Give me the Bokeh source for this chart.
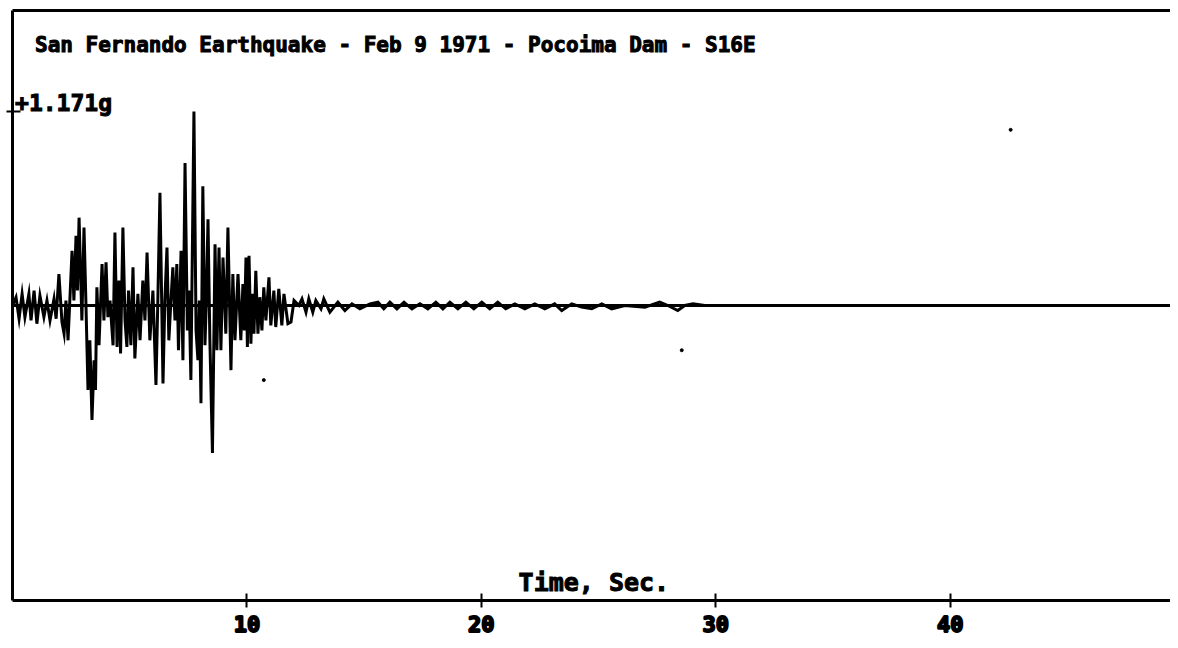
from bokeh.plotting import figure
from bokeh.models import LinearAxis, FixedTicker, Label, Span, Range1d, ColumnDataSource
from bokeh.embed import file_html
from bokeh.resources import INLINE

title_text = "San Fernando Earthquake - Feb 9 1971 - Pocoima Dam - S16E"
peak_label = "+1.171g"
x_label = "Time, Sec."
x_ticks = [10, 20, 30, 40]
peak_g = 1.171

# time (s) and acceleration (g) read from the record
time_s = [
    0.00, 0.15, 0.28, 0.41, 0.53, 0.70, 0.79, 0.92, 1.04, 1.17, 1.34, 1.47, 1.60, 1.77, 1.86,
    1.98, 2.11, 2.20, 2.28, 2.37, 2.54, 2.62, 2.71, 2.77, 2.84, 2.96, 3.05, 3.13, 3.22, 3.30,
    3.39, 3.48, 3.54, 3.60, 3.69, 3.82, 3.90, 3.99, 4.07, 4.16, 4.29, 4.37, 4.46, 4.54, 4.61,
    4.71, 4.80, 4.88, 4.95, 5.05, 5.14, 5.22, 5.35, 5.44, 5.56, 5.65, 5.74, 5.86, 5.99, 6.12,
    6.20, 6.29, 6.42, 6.50, 6.59, 6.67, 6.76, 6.84, 6.93, 7.01, 7.08, 7.19, 7.27, 7.36, 7.46,
    7.53, 7.61, 7.74, 7.83, 7.91, 7.97, 8.04, 8.12, 8.21, 8.27, 8.34, 8.42, 8.53, 8.64, 8.72,
    8.81, 8.89, 8.98, 9.10, 9.19, 9.32, 9.40, 9.49, 9.62, 9.74, 9.83, 9.89, 9.96, 10.02, 10.09,
    10.17, 10.23, 10.30, 10.38, 10.47, 10.55, 10.64, 10.72, 10.81, 10.94, 11.02, 11.15, 11.23, 11.36, 11.49,
    11.58, 11.75, 11.88, 12.01, 12.22, 12.35, 12.52, 12.64, 12.81, 12.94, 13.16, 13.28, 13.54, 13.88, 14.18,
    14.48, 14.82, 15.25, 15.59, 15.84, 16.10, 16.40, 16.70, 17.04, 17.38, 17.72, 18.06, 18.36, 18.66, 19.00,
    19.34, 19.68, 20.02, 20.36, 20.70, 21.04, 21.43, 21.86, 22.28, 22.71, 23.13, 23.43, 23.86, 24.28, 24.71,
    25.14, 25.56, 26.12, 26.98, 27.61, 27.96, 28.38, 28.68, 29.03, 29.53, 49.40,
]
accel_g = [
    0.00, 0.05, -0.08, 0.07, -0.07, 0.07, -0.09, 0.09, -0.11, 0.06, -0.07, 0.03, -0.09, 0.04, -0.08,
    0.19, -0.10, -0.17, 0.03, -0.21, 0.33, 0.03, 0.42, 0.09, 0.53, -0.09, 0.47, 0.03, -0.51, -0.21,
    -0.69, -0.33, -0.51, 0.11, -0.24, 0.25, -0.09, 0.26, -0.07, 0.03, -0.24, 0.44, -0.25, 0.15, -0.29,
    0.47, -0.09, -0.25, 0.09, -0.24, 0.23, -0.32, 0.07, -0.21, 0.15, -0.09, 0.32, -0.21, 0.09, -0.48,
    0.03, 0.68, -0.47, 0.03, 0.35, -0.21, 0.03, 0.23, -0.09, 0.25, -0.27, 0.33, -0.33, 0.86, -0.15,
    0.09, -0.45, 1.171, -0.15, -0.33, 0.03, -0.59, 0.72, -0.24, 0.03, 0.52, -0.21, -0.89, 0.37, -0.27,
    0.35, -0.27, 0.29, -0.17, 0.47, -0.39, 0.19, -0.21, 0.19, -0.21, 0.13, -0.15, 0.29, -0.25, 0.30,
    -0.23, 0.07, -0.17, 0.21, -0.17, 0.05, -0.15, 0.11, -0.09, 0.17, -0.12, 0.09, -0.13, 0.10, -0.12,
    0.07, -0.11, -0.10, 0.03, 0.00, 0.04, -0.04, 0.04, -0.04, 0.03, -0.02, 0.04, -0.04, 0.02, -0.03,
    0.01, -0.02, 0.01, 0.02, -0.02, 0.02, -0.02, 0.02, -0.02, 0.01, -0.02, 0.02, -0.02, 0.02, -0.02,
    0.02, -0.02, 0.02, -0.02, 0.02, -0.02, 0.01, -0.02, 0.01, -0.02, 0.01, -0.03, 0.01, -0.01, -0.02,
    0.01, -0.02, 0.00, -0.01, 0.02, 0.00, -0.03, 0.00, 0.01, 0.00, 0.00,
]

# stray specks on the record
speck_t = [10.72, 28.55, 42.58]
speck_g = [-0.45, -0.27, 1.06]

FONT = "DejaVu Sans Mono"

p = figure(width=1170, height=640, output_backend="svg", toolbar_location=None,
           x_axis_location=None, y_axis_location=None,
           x_range=Range1d(0, 49.4), y_range=Range1d(-1.78, 1.78),
           min_border_left=12, min_border_right=0, min_border_top=10, min_border_bottom=40)
p.grid.visible = False
p.outline_line_color = None
p.background_fill_color = "white"
p.border_fill_color = "white"

xaxis = LinearAxis(ticker=FixedTicker(ticks=x_ticks), axis_line_width=3, axis_line_color="black",
                   major_tick_in=7, major_tick_out=7, major_tick_line_width=2, minor_tick_line_color=None,
                   major_label_text_font=FONT, major_label_text_font_style="bold",
                   major_label_text_font_size="22px", major_label_text_color="black",
                   major_label_text_outline_color="black",
                   major_label_standoff=8)
p.add_layout(xaxis, "below")

yaxis = LinearAxis(ticker=FixedTicker(ticks=[peak_g]), axis_line_width=3, axis_line_color="black",
                   major_tick_in=8, major_tick_out=6, major_tick_line_width=2, minor_tick_line_color=None,
                   major_label_overrides={peak_g: ""}, major_label_standoff=0)
p.add_layout(yaxis, "left")

topaxis = LinearAxis(ticker=FixedTicker(ticks=[]), axis_line_width=3, axis_line_color="black",
                     major_tick_in=0, major_tick_out=0, minor_tick_line_color=None,
                     major_label_standoff=0)
p.add_layout(topaxis, "above")

p.add_layout(Span(location=0, dimension="width", line_color="black", line_width=3))

src = ColumnDataSource(dict(t=time_s, a=accel_g))
p.line("t", "a", source=src, line_color="black", line_width=3, line_join="miter")
p.scatter(speck_t, speck_g, size=3, color="black")

p.add_layout(Label(x=0.96, y=1.57, text=title_text, text_font=FONT, text_font_style="bold",
                   text_font_size="21px", text_color="black", text_outline_color="black",
                   text_align="left", text_baseline="middle"))
p.add_layout(Label(x=0.11, y=1.22, text=peak_label, text_font=FONT, text_font_style="bold",
                   text_font_size="23px", text_color="black", text_outline_color="black",
                   text_align="left", text_baseline="middle"))
p.add_layout(Label(x=24.8, y=-1.67, text=x_label, text_font=FONT, text_font_style="bold",
                   text_font_size="25px", text_color="black", text_outline_color="black",
                   text_align="center", text_baseline="middle"))

open("out.html", "w").write(file_html(p, INLINE))
